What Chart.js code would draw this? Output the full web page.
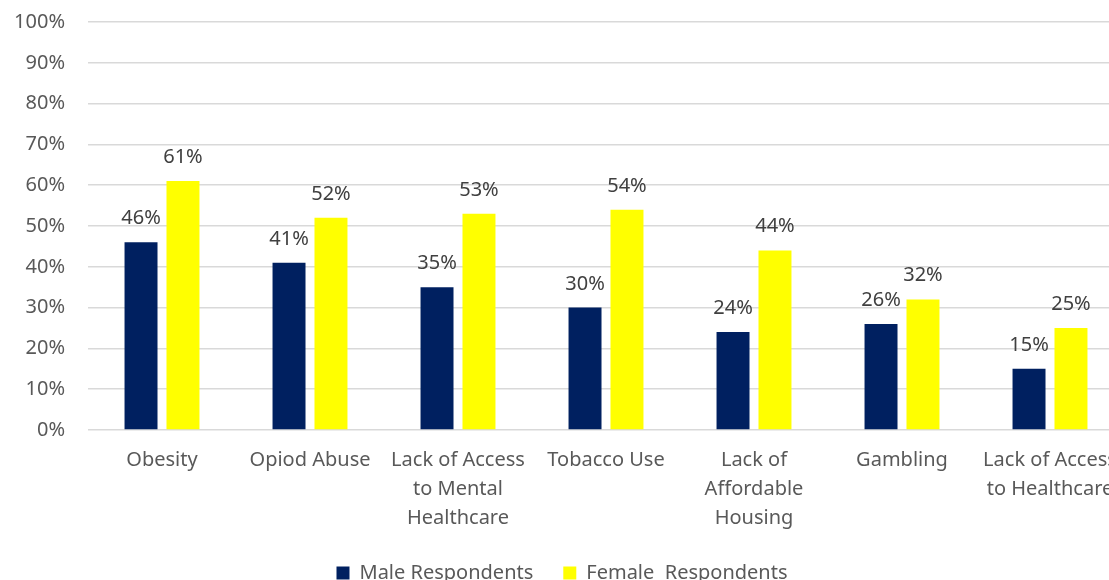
<!DOCTYPE html>
<html>
<head>
<meta charset="utf-8">
<script src="https://cdn.jsdelivr.net/npm/chart.js@4.4.1/dist/chart.umd.min.js"></script>
<style>
  html, body { margin: 0; padding: 0; background: #fff; overflow: hidden; }
  #wrap { width: 1109px; height: 580px; overflow: hidden; }
</style>
</head>
<body>
<div id="wrap"><canvas id="chart" width="1130" height="601"></canvas></div>
<script>
const categories = [
    ["Obesity"],
    ["Opiod Abuse"],
    ["Lack of Access", "to Mental", "Healthcare"],
    ["Tobacco Use"],
    ["Lack of", "Affordable", "Housing"],
    ["Gambling"],
    ["Lack of Access", "to Healthcare"]
];
const maleValues = [46, 41, 35, 30, 24, 26, 15];
const femaleValues = [61, 52, 53, 54, 44, 32, 25];
const yTicks = [0, 10, 20, 30, 40, 50, 60, 70, 80, 90, 100];

const FONT = "'Noto Sans', 'Open Sans', sans-serif";

// draws the value above each bar
const barLabels = {
    id: 'barLabels',
    afterDatasetsDraw(chart) {
        const ctx = chart.ctx;
        ctx.save();
        ctx.font = "20px " + FONT;
        ctx.fillStyle = "#404040";
        ctx.textAlign = "center";
        ctx.textBaseline = "alphabetic";
        chart.data.datasets.forEach((ds, i) => {
            const meta = chart.getDatasetMeta(i);
            meta.data.forEach((bar, j) => {
                ctx.fillText(ds.data[j] + "%", bar.x, bar.y - 18);
            });
        });
        ctx.restore();
    }
};

const data = {
    labels: categories,
    datasets: [
        {
            label: "Male Respondents",
            data: maleValues,
            backgroundColor: "#002060",
            barPercentage: 0.786,
            categoryPercentage: 0.567
        },
        {
            label: "Female  Respondents",
            data: femaleValues,
            backgroundColor: "#FFFF00",
            barPercentage: 0.786,
            categoryPercentage: 0.567
        }
    ]
};

const config = {
    type: 'bar',
    data: data,
    plugins: [barLabels],
    options: {
        responsive: false,
        animation: false,
        layout: {
            padding: { top: 22, right: 6, bottom: 8, left: 0 }
        },
        plugins: {
            tooltip: { enabled: false },
            legend: {
                position: 'bottom',
                labels: {
                    boxWidth: 13,
                    boxHeight: 13,
                    padding: 30,
                    color: "#595959",
                    font: { family: FONT, size: 20 }
                }
            }
        },
        scales: {
            x: {
                grid: { display: false },
                border: { display: false },
                ticks: {
                    color: "#595959",
                    padding: 8,
                    maxRotation: 0,
                    autoSkip: false,
                    font: { family: FONT, size: 20, lineHeight: 1.45 }
                },
                afterFit(scale) {
                    scale.height = 103;
                }
            },
            y: {
                min: 0,
                max: 100,
                afterBuildTicks(scale) {
                    scale.ticks = yTicks.map(v => ({ value: v }));
                },
                grid: {
                    color: "#d9d9d9",
                    lineWidth: 1.5,
                    drawTicks: false
                },
                border: { display: false },
                ticks: {
                    color: "#595959",
                    padding: 23,
                    font: { family: FONT, size: 20 },
                    callback: (v) => v + "%"
                },
                afterFit(scale) {
                    scale.width = 88;
                    scale.paddingTop = 0;
                    scale.paddingBottom = 0;
                }
            }
        }
    }
};

new Chart(document.getElementById('chart').getContext('2d'), config);
</script>
</body>
</html>
